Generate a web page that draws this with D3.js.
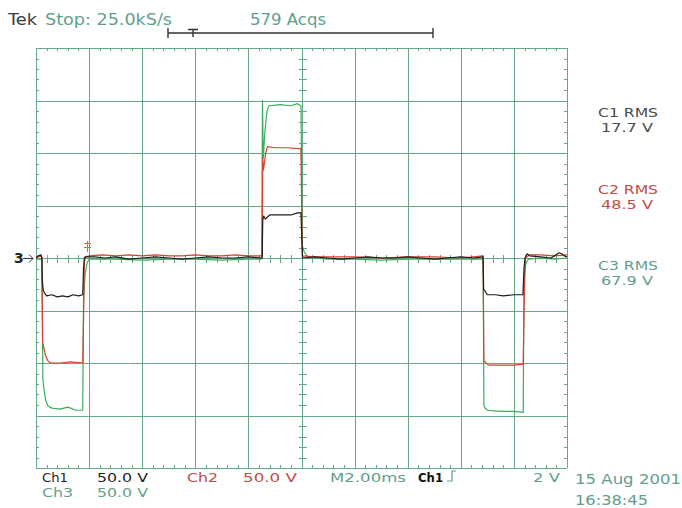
<!DOCTYPE html>
<html>
<head>
<meta charset="utf-8">
<script src="https://cdn.jsdelivr.net/npm/d3@7"></script>
<style>
  body { margin: 0; background: #fff; }
  svg { display: block; font-family: "DejaVu Sans", sans-serif; }
</style>
</head>
<body>
<div id="chart"></div>
<script>
// ---- scope settings (2 ms/div, 50 V/div, 10 x 8 divisions) ----
const timeDomain = [0, 20];      // ms
const voltDomain = [-200, 200];  // V
const timeGrid = d3.range(0, 20.001, 2);
const voltGrid = d3.range(-200, 200.001, 50);
const timeMinor = d3.range(0, 20.001, 0.4);
const voltMinor = d3.range(-200, 200.001, 10);

// ---- traces: [time ms, volts] ----
const ch1Points = [
  [0, 0], [0.08, 2], [0.19, 3], [0.22, 0], [0.24, -22], [0.27, -30], [0.31, -33],
  [0.40, -36], [0.60, -35], [0.80, -37], [1.00, -36], [1.20, -37], [1.40, -35],
  [1.60, -36], [1.76, -35], [1.79, -10], [1.82, 0], [1.86, 1], [2.2, 1], [2.6, 0],
  [3.0, 1], [3.5, -1], [4.0, 0], [4.5, 1], [5.0, 0], [5.5, -1], [6.0, 0], [6.5, 1],
  [7.0, 0], [7.5, 0], [8.0, 1], [8.5, 0], [8.52, 0], [8.54, 36], [8.58, 40],
  [8.64, 37], [8.80, 41], [9.2, 41], [9.6, 41], [9.85, 43], [9.98, 43], [10.01, 20],
  [10.04, 0], [10.5, 1], [11.0, 0], [11.5, -1], [12.0, 0], [12.5, 1], [13.0, 0],
  [13.5, 0], [14.0, 1], [14.5, 0], [15.0, -1], [15.5, 0], [16.0, 1], [16.5, 0],
  [16.84, 1], [16.86, -30], [16.90, -31], [17.00, -35], [17.3, -35], [17.6, -36],
  [18.0, -35], [18.34, -35], [18.38, -10], [18.42, 0], [18.50, 4], [18.6, 2],
  [19.0, 1], [19.4, 0], [19.7, 5], [19.8, 4], [19.9, 2], [20, 1]
];
const ch2Points = [
  [0, 1], [0.1, 1], [0.2, 2], [0.22, 0], [0.25, -80], [0.30, -86], [0.36, -93],
  [0.45, -98], [0.55, -100], [0.9, -100], [1.3, -99], [1.76, -100], [1.79, -60],
  [1.82, -5], [1.86, 1], [2.0, 2], [2.5, 3], [3.0, 2], [3.5, 3], [4.0, 2], [4.5, 3],
  [5.0, 2], [5.5, 2], [6.0, 3], [6.5, 2], [7.0, 2], [7.5, 3], [8.0, 2], [8.50, 2],
  [8.52, 2], [8.54, 95], [8.57, 84], [8.65, 100], [8.72, 106], [9.0, 105],
  [9.5, 105], [9.98, 104], [10.03, 2], [10.5, 1], [11.0, 1], [12.0, 1], [13.0, 0],
  [14.0, 1], [15.0, 1], [16.0, 0], [16.84, 2], [16.87, -98], [16.95, -100],
  [17.05, -102], [17.5, -102], [18.0, -102], [18.35, -101], [18.39, -40],
  [18.43, 0], [18.6, 3], [19.0, 3], [19.5, 2], [20, 3]
];
const ch3Points = [
  [0, -1], [0.2, -1], [0.22, -1], [0.26, -116], [0.30, -125], [0.36, -135],
  [0.45, -141], [0.6, -143], [0.9, -144], [1.2, -142], [1.5, -145], [1.76, -145],
  [1.79, -40], [1.85, -15], [1.92, -5], [2.0, -1], [3.0, -1], [4.0, -2], [5.0, -1],
  [6.0, -1], [7.0, -2], [8.0, -1], [8.50, -1], [8.53, 150], [8.56, 95], [8.62, 120],
  [8.70, 140], [8.78, 145], [9.2, 146], [9.6, 145], [9.85, 147], [9.98, 145],
  [10.03, 12], [10.1, 6], [10.2, 2], [10.35, 0], [11.0, -1], [12.0, -1], [13.0, -2],
  [14.0, -1], [15.0, -1], [16.0, -1], [16.84, -1], [16.87, -140], [16.92, -143],
  [17.0, -145], [17.5, -146], [18.0, -146], [18.35, -147], [18.38, -20],
  [18.45, -5], [18.55, -1], [19.0, 0], [19.5, -1], [20, 0]
];

// ---- readouts ----
const rmsLabels = ["C1 RMS", "C2 RMS", "C3 RMS"];
const rmsValues = ["17.7 V", "48.5 V", "67.9 V"];
const channelScales = ["50.0 V", "50.0 V", "50.0 V"];
const sampleRate = "Stop: 25.0kS/s";
const acquisitions = "579 Acqs";
const timebase = "M2.00ms";
const triggerLevel = "2 V";
const dateStamp = ["15 Aug 2001", "16:38:45"];

const W = 682, H = 508;
const gridColor = "#64a887";
const teal = "#5f9e8c";
const red = "#c44a44";
const traceColors = { ch1: "#1c1c1c", ch2: "#d6402c", ch3: "#3aac5e" };

const svg = d3.select("#chart").append("svg")
    .attr("width", W)
    .attr("height", H);

const x = d3.scaleLinear().domain(timeDomain).range([36, 567]);
const y = d3.scaleLinear().domain(voltDomain).range([468, 48]);

// grid
const grid = svg.append("g")
    .attr("stroke", gridColor)
    .attr("stroke-width", 1)
    .attr("shape-rendering", "crispEdges");

grid.selectAll("line.v")
  .data(timeGrid)
  .join("line")
    .attr("class", "v")
    .attr("x1", d => Math.round(x(d)) + 0.5).attr("x2", d => Math.round(x(d)) + 0.5)
    .attr("y1", y(200)).attr("y2", y(-200));

grid.selectAll("line.h")
  .data(voltGrid)
  .join("line")
    .attr("class", "h")
    .attr("x1", x(0)).attr("x2", x(20))
    .attr("y1", d => Math.round(y(d)) + 0.5).attr("y2", d => Math.round(y(d)) + 0.5);

// minor ticks: center cross (both sides) and frame (inward)
const cx = Math.round(x(10)) + 0.5, cy = Math.round(y(0)) + 0.5;
grid.selectAll("line.tc")
  .data(timeMinor)
  .join("line")
    .attr("class", "tc")
    .attr("x1", d => Math.round(x(d)) + 0.5).attr("x2", d => Math.round(x(d)) + 0.5)
    .attr("y1", cy - 4).attr("y2", cy + 4);
grid.selectAll("line.vc")
  .data(voltMinor)
  .join("line")
    .attr("class", "vc")
    .attr("y1", d => Math.round(y(d)) + 0.5).attr("y2", d => Math.round(y(d)) + 0.5)
    .attr("x1", cx - 4).attr("x2", cx + 4);
[[y(200), 1], [y(-200), -1]].forEach(([yy, dir]) => {
  grid.append("g").selectAll("line")
    .data(timeMinor)
    .join("line")
      .attr("x1", d => Math.round(x(d)) + 0.5).attr("x2", d => Math.round(x(d)) + 0.5)
      .attr("y1", yy).attr("y2", yy + dir * 3);
});
[[x(0), 1], [x(20), -1]].forEach(([xx, dir]) => {
  grid.append("g").selectAll("line")
    .data(voltMinor)
    .join("line")
      .attr("y1", d => Math.round(y(d)) + 0.5).attr("y2", d => Math.round(y(d)) + 0.5)
      .attr("x1", xx).attr("x2", xx + dir * 3);
});

// traces
const line = d3.line().x(d => x(d[0])).y(d => y(d[1]));
[["ch3", ch3Points], ["ch2", ch2Points], ["ch1", ch1Points]].forEach(([k, pts]) => {
  svg.append("path")
      .datum(pts)
      .attr("fill", "none")
      .attr("stroke", traceColors[k])
      .attr("stroke-width", 1.2)
      .attr("stroke-linejoin", "round")
      .attr("d", line);
});

// ground marker on the left
svg.append("text")
    .attr("x", 14).attr("y", 263)
    .attr("font-size", 14).attr("font-weight", "bold")
    .attr("fill", "#222")
    .text("3");
svg.append("path")
    .attr("d", `M23,${cy}H33M29,${cy - 4}L33,${cy}L29,${cy + 4}`)
    .attr("stroke", "#333").attr("fill", "none").attr("stroke-width", 1);

// trigger level marker
svg.append("path")
    .attr("d", "M87.5,241V252M84,243.5H91M84,247.5H91")
    .attr("stroke", "#d8703a").attr("fill", "none").attr("stroke-width", 1.2);

// record bar at top
svg.append("path")
    .attr("d", "M168,33H433M168,28V38M433,28V38M188,29.5H198M193,29.5V37")
    .attr("stroke", "#333").attr("fill", "none").attr("stroke-width", 1.4);

// texts
function label(txt, xx, yy, w, size, color, weight) {
  svg.append("text")
      .attr("x", xx).attr("y", yy)
      .attr("font-size", size)
      .attr("font-weight", weight || "normal")
      .attr("fill", color)
      .attr("textLength", w)
      .attr("lengthAdjust", "spacingAndGlyphs")
      .text(txt);
}

label("Tek", 8, 25, 29, 16, "#3c3c3c");
label(sampleRate, 45, 25, 127, 16, teal);
label(acquisitions, 250, 25, 76, 16, teal);

const rmsColors = ["#4a4a4a", red, teal];
const rmsY = [117, 194, 270];
rmsLabels.forEach((t, i) => {
  label(t, 598, rmsY[i], 60, 13, rmsColors[i]);
  label(rmsValues[i], 601, rmsY[i] + 15, 52, 13, rmsColors[i]);
});

label("Ch1", 42, 482, 26, 13, "#222");
label(channelScales[0], 97, 482, 51, 13, "#222");
label("Ch2", 187, 482, 31, 13, red);
label(channelScales[1], 243, 482, 54, 13, red);
label("Ch3", 42, 497, 31, 13, teal);
label(channelScales[2], 97, 497, 51, 13, teal);
label(timebase, 330, 482, 76, 13, teal);
label("Ch1", 418, 482, 25, 13, "#111", "bold");
svg.append("path")
    .attr("d", "M447,481H452V471H456")
    .attr("stroke", teal).attr("fill", "none").attr("stroke-width", 1.2);
label(triggerLevel, 533, 482, 27, 13, teal);
label(dateStamp[0], 575, 484, 106, 14, teal);
label(dateStamp[1], 575, 505, 73, 14, teal);
</script>
</body>
</html>
